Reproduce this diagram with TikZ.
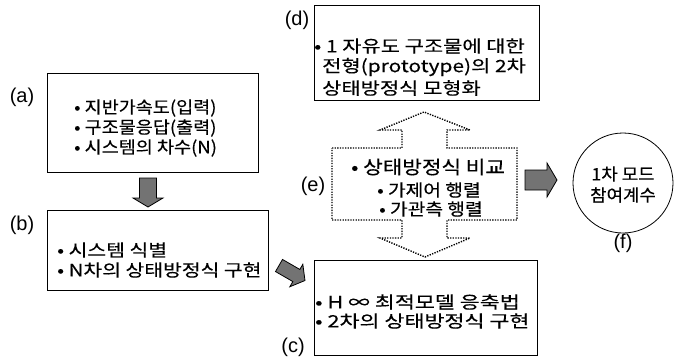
\documentclass[tikz,border=0pt]{standalone}
\usepackage{fontspec}
\setmainfont{Noto Sans CJK KR}
\newfontfamily\lblfont{Liberation Sans}
\newfontfamily\fa{Noto Sans CJK KR}[FakeStretch=1.09,FakeBold=0.3]
\newfontfamily\fb{Noto Sans CJK KR}[FakeStretch=1.2,FakeBold=0.3]
\newfontfamily\fc{Noto Sans CJK KR}[FakeStretch=1.28,FakeBold=0.3]
\newfontfamily\fd{Noto Sans CJK KR}[FakeStretch=1.23,FakeBold=0.3]
\newfontfamily\fe{Noto Sans CJK KR}[FakeStretch=1.15,FakeBold=0.3]
\newfontfamily\fee{Noto Sans CJK KR}[FakeStretch=1.13,FakeBold=0.3]
\newfontfamily\ff{Noto Sans CJK KR}[FakeStretch=1.05,FakeBold=0.3]
\begin{document}
\newcommand{\garrow}[7]{%
  \begin{scope}[shift={(#1,#2)},rotate=#3]
    \filldraw[garrowstyle] (-#4pt,-#5pt) -- (#4pt-#7pt,-#5pt) -- (#4pt-#7pt,-#6pt) -- (#4pt,0pt)
      -- (#4pt-#7pt,#6pt) -- (#4pt-#7pt,#5pt) -- (-#4pt,#5pt) -- cycle;
  \end{scope}}
\begin{tikzpicture}[x=1pt,y=-1pt,
  boxst/.style={draw,line width=0.8pt,minimum width=#1,inner sep=0pt},
  txt/.style={anchor=west,inner sep=0pt,font=#1\fontsize{17}{18}\selectfont},
  bigtxt/.style={anchor=west,inner sep=0pt,font=\fe\fontsize{18.5}{20}\selectfont},
  lbl/.style={inner sep=0pt,font=\lblfont\fontsize{20}{22}\selectfont},
  garrowstyle/.style={fill=black!55,draw=black,line width=0.8pt},
  dotline/.style={line width=1.4pt,dash pattern=on 1.3pt off 1.3pt}]
\useasboundingbox (0,0) rectangle (694,359);
% boxes
\node[boxst=211pt,minimum height=99pt] (a) at (152.5,122.5) {};
\node[boxst=221pt,minimum height=80pt] (b) at (157.5,250) {};
\node[boxst=225pt,minimum height=95pt] (d) at (426.5,52.5) {};
\node[boxst=223pt,minimum height=95pt] (c) at (425.5,307.5) {};
\node[circle,draw,line width=0.8pt,minimum size=100pt,inner sep=0pt] (f) at (623,183) {};
% labels
\node[lbl] (la) at (22,97) {(a)};
\node[lbl] (lb) at (22,225) {(b)};
\node[lbl] (lc) at (293,347) {(c)};
\node[lbl] (ld) at (297,20) {(d)};
\node[lbl] (le) at (313,186) {(e)};
\node[lbl] (lf) at (623,243) {(f)};
% texts (a)
\node[txt=\fa] (a1) at (74,108) {• 지반가속도(입력)};
\node[txt=\fa] (a2) at (74,128) {• 구조물응답(출력)};
\node[txt=\fa] (a3) at (74,148) {• 시스템의 차수(N)};
% (b)
\node[txt=\fb] (b1) at (57,250) {• 시스템 식별};
\node[txt=\fb] (b2) at (57,270) {• N차의 상태방정식 구현};
% (c)
\node[txt=\fc] (c1) at (315,302) {• H ∞ 최적모델 응축법};
\node[txt=\fc] (c2) at (315,321) {• 2차의 상태방정식 구현};
% (d)
\node[txt=\fd] (d1) at (314,46) {• 1 자유도 구조물에 대한};
\node[txt=\fd] (d2) at (322,67) {전형(prototype)의 2차};
\node[txt=\fd] (d3) at (322,88) {상태방정식 모형화};
% (e)
\node[bigtxt] (e1) at (351,167) {• 상태방정식 비교};
\node[txt=\fee] (e2) at (377,190) {• 가제어 행렬};
\node[txt=\fee] (e3) at (379,209) {• 가관측 행렬};
% (f)
\node[inner sep=0pt,font=\ff\fontsize{17}{18}\selectfont] (f1) at (623,174) {1차 모드};
\node[inner sep=0pt,font=\ff\fontsize{17}{18}\selectfont] (f2) at (623,195) {참여계수};
% dotted double arrow (e)
\draw[dotline] (332,148) -- (402,148) -- (402,130) -- (380,130) -- (424,112) -- (470,130)
  -- (447,130) -- (447,148) -- (517,148) -- (517,220) -- (447,220) -- (447,238) -- (470,238)
  -- (425,257) -- (380,238) -- (402,238) -- (402,220) -- (332,220) -- cycle;
% gray block arrows
\garrow{148}{192.5}{-90}{14.5}{8.5}{15}{9}
\garrow{541}{180}{0}{16}{10}{17}{10}
\garrow{292}{273}{-30}{15}{7}{13}{10}
\end{tikzpicture}
\end{document}
